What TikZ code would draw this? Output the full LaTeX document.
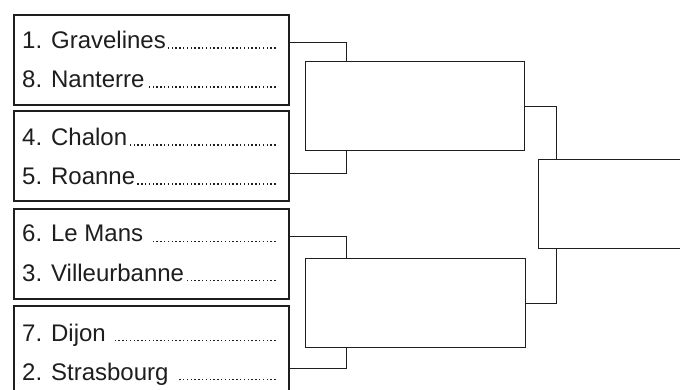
\documentclass[tikz,border=0pt]{standalone}
\usepackage{fontspec}
\setmainfont{Liberation Sans}
\definecolor{ink}{RGB}{30,30,30}
\newcommand{\dotline}{\leaders\hbox to 3.8pt{\hss\rule{1.5pt}{1.5pt}\hss}\hfill}
\newcommand{\teamline}[1]{\makebox[255pt][l]{#1\dotline}}

\begin{document}
\begin{tikzpicture}[
    x=1pt, y=-1pt,
    pair/.style={draw=ink, line width=1.8pt, anchor=north west, minimum width=275pt, minimum height=90pt, inner sep=0pt},
    winner/.style={draw=ink, line width=1.4pt, anchor=north west, minimum height=89pt, inner sep=0pt},
    team/.style={anchor=base west, inner sep=0pt, font=\fontsize{24}{24}\selectfont, text=ink},
    link/.style={draw=ink, line width=1pt}
]
    \clip (0,0) rectangle (680,390);
    \fill[white] (0,0) rectangle (680,390);

    % quarter-final pairs
    \node[pair] (qf1) at (13,14) {};
    \node[pair] (qf2) at (13,110) {};
    \node[pair] (qf3) at (13,208) {};
    \node[pair] (qf4) at (13,305) {};

    \node[team] (gra) at (22,49)  {\teamline{1. Gravelines}};
    \node[team] (nan) at (22,88)  {\teamline{8. Nanterre}};
    \node[team] (cha) at (22,146) {\teamline{4. Chalon}};
    \node[team] (roa) at (22,185) {\teamline{5. Roanne}};
    \node[team] (lem) at (22,242) {\teamline{6. Le Mans }};
    \node[team] (vil) at (22,281) {\teamline{3. Villeurbanne}};
    \node[team] (dij) at (22,341) {\teamline{7. Dijon }};
    \node[team] (str) at (22,380) {\teamline{2. Strasbourg }};

    % semi-finals and final
    \node[winner, minimum width=219pt] (sf1) at (305,61) {};
    \node[winner, minimum width=220pt] (sf2) at (305,258) {};
    \node[winner, minimum width=250pt] (fin) at (538,159) {};

    % connectors
    \draw[link] ([yshift=17.5pt]qf1.east) -| ([xshift=41pt]sf1.north west);
    \draw[link] ([yshift=-17.5pt]qf2.east) -| ([xshift=41pt]sf1.south west);
    \draw[link] ([yshift=17.5pt]qf3.east) -| ([xshift=41pt]sf2.north west);
    \draw[link] ([yshift=-17.5pt]qf4.east) -| ([xshift=41pt]sf2.south west);
    \draw[link] (sf1.east) -| ([xshift=18pt]fin.north west);
    \draw[link] (sf2.east) -| ([xshift=18pt]fin.south west);
\end{tikzpicture}
\end{document}
